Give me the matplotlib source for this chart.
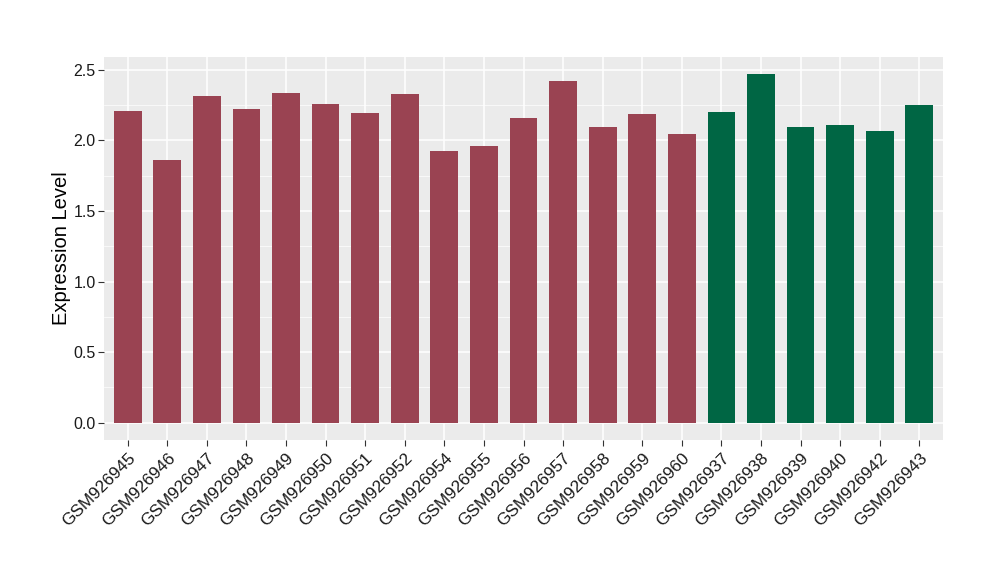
import matplotlib
matplotlib.use("Agg")
import matplotlib.pyplot as plt
import numpy as np

plt.rcParams['font.family'] = ['Liberation Sans', 'DejaVu Sans']

samples = ["GSM926945", "GSM926946", "GSM926947", "GSM926948", "GSM926949",
           "GSM926950", "GSM926951", "GSM926952", "GSM926954", "GSM926955",
           "GSM926956", "GSM926957", "GSM926958", "GSM926959", "GSM926960",
           "GSM926937", "GSM926938", "GSM926939", "GSM926940", "GSM926942",
           "GSM926943"]
values = [2.207, 1.861, 2.313, 2.221, 2.334, 2.256, 2.192, 2.329, 1.924, 1.959,
          2.157, 2.419, 2.093, 2.185, 2.044, 2.199, 2.468, 2.093, 2.107, 2.065,
          2.249]
groups = ["a"] * 15 + ["b"] * 6
group_colors = {"a": "#9A4352", "b": "#006644"}

fig = plt.figure(figsize=(10, 5.8), dpi=100)
ax = fig.add_axes([0.104, 0.2414, 0.839, 0.6603])
ax.set_facecolor("#EBEBEB")

x = np.arange(len(samples))
ax.bar(x, values, width=0.7, color=[group_colors[g] for g in groups], zorder=3)

ax.set_xlim(-0.6, len(samples) - 0.4)
ymax = max(values)
ax.set_ylim(-0.05 * ymax, ymax * 1.05)

ax.set_yticks([0, 0.5, 1.0, 1.5, 2.0, 2.5])
ax.set_yticklabels(["0.0", "0.5", "1.0", "1.5", "2.0", "2.5"], fontsize=11.5, color="#1a1a1a")
ax.set_yticks([0.25, 0.75, 1.25, 1.75, 2.25], minor=True)
ax.set_xticks(x)
ax.set_xticklabels(samples, rotation=45, ha="right", rotation_mode="anchor",
                   fontsize=12.3, color="#1a1a1a")

ax.grid(which="major", color="white", linewidth=1.1, zorder=0)
ax.grid(which="minor", axis="y", color="white", linewidth=0.5, zorder=0)
ax.tick_params(which="major", length=4, color="#333333", width=0.8)
ax.tick_params(axis="y", which="major", pad=2)
ax.tick_params(which="minor", length=0)
for s in ax.spines.values():
    s.set_visible(False)

ax.set_ylabel("Expression Level", fontsize=14.5, labelpad=2)

fig.savefig("out.png", dpi=100)
